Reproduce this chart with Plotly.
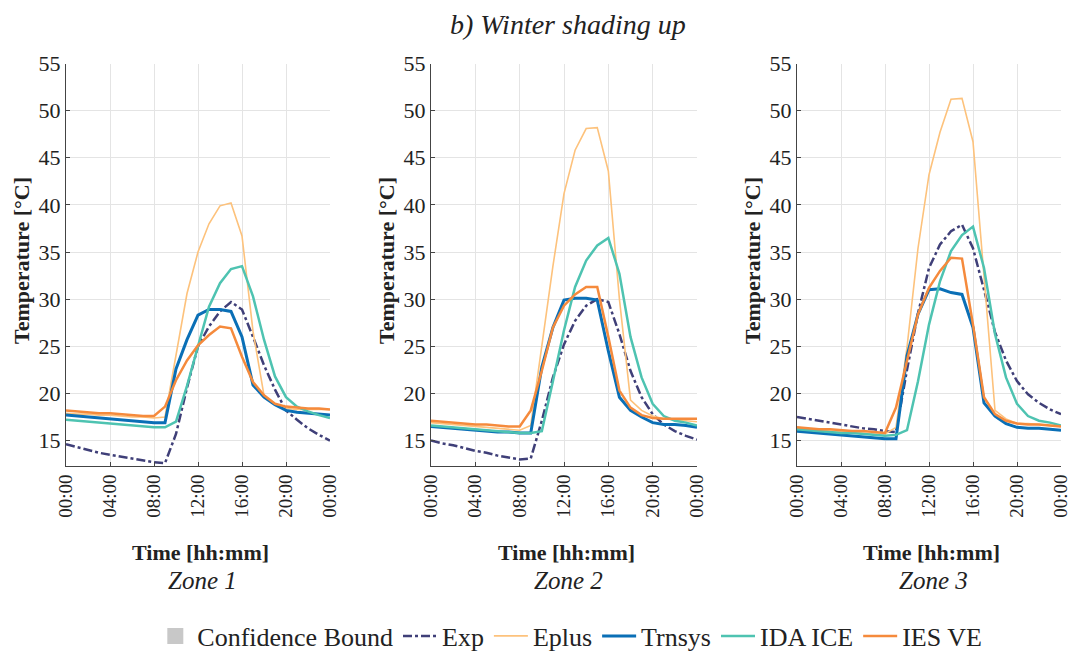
import plotly.graph_objects as go

# ---------------- data ----------------
hours = list(range(25))
tick_vals = [0, 4, 8, 12, 16, 20, 24]
tick_text = ["00:00", "04:00", "08:00", "12:00", "16:00", "20:00", "00:00"]
y_ticks = [15, 20, 25, 30, 35, 40, 45, 50, 55]
zone_names = ["Zone 1", "Zone 2", "Zone 3"]
series_names = ["Exp", "Eplus", "Trnsys", "IDA ICE", "IES VE"]

exp_z1 = [14.6, 14.3, 14.0, 13.7, 13.5, 13.3, 13.1, 12.9, 12.7, 12.6, 15.7, 20.6, 25.0, 27.1, 28.7, 29.7, 28.9, 26.0, 23.0, 20.4, 18.2, 17.2, 16.3, 15.6, 15.0]
eplus_z1 = [17.9, 17.8, 17.8, 17.7, 17.7, 17.6, 17.5, 17.5, 17.4, 17.5, 24.0, 30.6, 35.0, 38.0, 39.9, 40.2, 36.7, 26.6, 19.8, 18.8, 18.4, 18.3, 18.3, 18.3, 18.3]
trnsys_z1 = [17.7, 17.6, 17.5, 17.4, 17.3, 17.2, 17.1, 17.0, 16.9, 16.9, 22.6, 25.7, 28.3, 28.9, 28.9, 28.7, 26.0, 20.9, 19.6, 18.8, 18.2, 18.0, 17.9, 17.8, 17.7]
ida_z1 = [17.2, 17.1, 17.0, 16.9, 16.8, 16.7, 16.6, 16.5, 16.4, 16.4, 17.0, 20.8, 25.0, 29.2, 31.7, 33.2, 33.5, 30.3, 25.7, 21.8, 19.6, 18.6, 18.1, 17.7, 17.4]
ies_z1 = [18.2, 18.1, 18.0, 17.9, 17.9, 17.8, 17.7, 17.6, 17.6, 18.6, 21.4, 23.5, 25.1, 26.2, 27.1, 26.9, 23.9, 21.2, 19.8, 18.9, 18.6, 18.5, 18.4, 18.4, 18.3]

exp_z2 = [15.0, 14.7, 14.5, 14.2, 13.9, 13.7, 13.4, 13.2, 13.0, 13.1, 17.1, 21.7, 25.2, 27.7, 29.3, 30.0, 29.7, 26.3, 22.4, 19.6, 17.8, 16.7, 16.0, 15.5, 15.1]
eplus_z2 = [16.9, 16.8, 16.7, 16.6, 16.5, 16.4, 16.3, 16.2, 16.1, 16.6, 25.0, 33.5, 41.2, 45.8, 48.1, 48.2, 43.6, 30.0, 19.3, 18.2, 17.6, 17.3, 17.2, 17.1, 17.0]
trnsys_z2 = [16.5, 16.4, 16.3, 16.2, 16.1, 16.0, 15.9, 15.9, 15.8, 15.8, 22.8, 27.0, 29.9, 30.1, 30.1, 29.9, 24.5, 19.6, 18.2, 17.5, 16.9, 16.7, 16.7, 16.6, 16.4]
ida_z2 = [16.6, 16.5, 16.4, 16.3, 16.2, 16.1, 16.0, 15.9, 15.8, 15.8, 16.0, 21.3, 26.7, 31.3, 34.1, 35.7, 36.5, 32.7, 26.0, 21.7, 18.9, 17.6, 17.1, 16.9, 16.6]
ies_z2 = [17.1, 17.0, 16.9, 16.8, 16.7, 16.7, 16.6, 16.5, 16.5, 18.2, 22.4, 27.0, 29.3, 30.5, 31.3, 31.3, 26.0, 20.3, 18.5, 17.7, 17.4, 17.3, 17.3, 17.3, 17.3]

exp_z3 = [17.5, 17.3, 17.1, 16.9, 16.7, 16.5, 16.3, 16.2, 16.0, 15.9, 22.5, 28.5, 33.3, 35.8, 37.2, 37.9, 35.4, 31.0, 26.5, 23.5, 21.3, 19.9, 19.0, 18.3, 17.8]
eplus_z3 = [16.3, 16.2, 16.1, 16.0, 16.0, 15.9, 15.8, 15.7, 15.7, 16.4, 24.9, 35.4, 43.2, 47.7, 51.2, 51.3, 46.7, 32.3, 18.2, 17.3, 16.8, 16.8, 16.7, 16.6, 16.5]
trnsys_z3 = [16.0, 15.9, 15.8, 15.7, 15.6, 15.5, 15.4, 15.3, 15.2, 15.2, 24.0, 28.4, 31.0, 31.1, 30.7, 30.5, 27.0, 19.0, 17.6, 16.8, 16.4, 16.3, 16.3, 16.2, 16.1]
ida_z3 = [16.2, 16.1, 16.0, 15.9, 15.8, 15.8, 15.7, 15.6, 15.5, 15.6, 16.1, 21.3, 27.3, 31.9, 35.1, 36.8, 37.7, 33.3, 26.3, 21.7, 18.9, 17.6, 17.1, 16.9, 16.6]
ies_z3 = [16.4, 16.3, 16.2, 16.2, 16.1, 16.0, 16.0, 15.9, 15.8, 18.5, 23.5, 28.4, 31.2, 33.0, 34.4, 34.3, 27.3, 19.6, 17.8, 17.1, 16.8, 16.7, 16.7, 16.6, 16.5]

zones = [
    [exp_z1, eplus_z1, trnsys_z1, ida_z1, ies_z1],
    [exp_z2, eplus_z2, trnsys_z2, ida_z2, ies_z2],
    [exp_z3, eplus_z3, trnsys_z3, ida_z3, ies_z3],
]

# ---------------- styles ----------------
W, H = 1070, 656
FONT = "Liberation Serif"
TXT = "#222222"
styles = {
    "Exp": dict(color="#3f3f78", width=2.5, dash="dashdot"),
    "Eplus": dict(color="#fdc27c", width=1.6, dash="solid"),
    "Trnsys": dict(color="#0a6fb6", width=3.0, dash="solid"),
    "IDA ICE": dict(color="#4ec3b1", width=2.5, dash="solid"),
    "IES VE": dict(color="#f58a3c", width=2.5, dash="solid"),
}
x_px = [(66, 330), (431, 697), (797, 1061)]
y_top_px, y_bot_px = 63.5, 466

fig = go.Figure()

# Confidence bound (legend entry only, no visible band)
fig.add_trace(go.Scatter(x=[None], y=[None], name="Confidence Bound", mode="markers",
                         marker=dict(symbol="square", size=22, color="#c8c8c8"),
                         showlegend=True))

for zi, zone in enumerate(zones):
    suffix = "" if zi == 0 else str(zi + 1)
    for si, name in enumerate(series_names):
        fig.add_trace(go.Scatter(
            x=hours, y=zone[si], name=name, mode="lines",
            line=styles[name], legendgroup=name, showlegend=(zi == 0),
            xaxis="x" + suffix, yaxis="y" + suffix,
        ))

layout = dict(
    width=W, height=H, margin=dict(l=0, r=0, t=0, b=0, autoexpand=False),
    paper_bgcolor="white", plot_bgcolor="white",
    font=dict(family=FONT, color=TXT),
    showlegend=True,
    legend=dict(orientation="h", x=0.533, xanchor="center", y=1 - 636 / H, yanchor="middle",
                font=dict(family=FONT, size=26, color=TXT), bgcolor="rgba(0,0,0,0)",
                itemwidth=34, tracegroupgap=0, itemsizing="trace"),
)

annotations = [dict(text="<i>b) Winter shading up</i>", x=568 / W, y=1 - 25 / H, xref="paper", yref="paper",
                    xanchor="center", yanchor="middle",
                    showarrow=False, font=dict(family=FONT, size=28, color=TXT))]

for zi in range(3):
    suffix = "" if zi == 0 else str(zi + 1)
    x0, x1 = x_px[zi]
    layout["xaxis" + suffix] = dict(
        domain=[x0 / W, x1 / W], range=[0, 24], anchor="y" + suffix, automargin=False,
        tickvals=tick_vals, ticktext=tick_text, tickangle=-90, ticklabeloverflow="allow",
        ticks="inside", ticklen=4, tickcolor="#444444",
        showline=True, linecolor="#444444", linewidth=1,
        showgrid=True, gridcolor="#e4e4e4", gridwidth=1, zeroline=False,
        tickfont=dict(family=FONT, size=19, color=TXT),
    )
    layout["yaxis" + suffix] = dict(
        domain=[1 - y_bot_px / H, 1 - y_top_px / H], range=[12.3, 55], anchor="x" + suffix, automargin=False,
        tickvals=y_ticks, ticklabeloverflow="allow",
        ticks="inside", ticklen=4, tickcolor="#444444",
        showline=True, linecolor="#444444", linewidth=1,
        showgrid=True, gridcolor="#e4e4e4", gridwidth=1, zeroline=False,
        tickfont=dict(family=FONT, size=22, color=TXT),
    )
    cx = (x0 + x1) / 2
    annotations.append(dict(text="<b>Temperature [°C]</b>", textangle=-90, x=(x0 - 45) / W, y=1 - 261 / H,
                            xref="paper", yref="paper", xanchor="center", yanchor="middle", showarrow=False,
                            font=dict(family=FONT, size=22, color=TXT)))
    annotations.append(dict(text="<b>Time [hh:mm]</b>", x=(cx + 2) / W, y=1 - 552 / H, xref="paper", yref="paper",
                            xanchor="center", yanchor="middle",
                            showarrow=False, font=dict(family=FONT, size=22, color=TXT)))
    annotations.append(dict(text="<i>" + zone_names[zi] + "</i>", x=(cx + 4) / W, y=1 - 580 / H,
                            xref="paper", yref="paper", xanchor="center", yanchor="middle", showarrow=False,
                            font=dict(family=FONT, size=25, color=TXT)))

layout["annotations"] = annotations
fig.update_layout(**layout)
fig.write_html("out.html", config={"displayModeBar": False},
               post_script="document.body.style.margin='0';document.body.style.overflow='hidden';")
